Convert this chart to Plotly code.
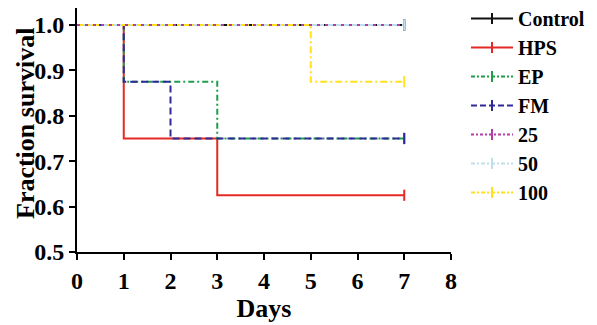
import plotly.graph_objects as go

days = [0, 1, 2, 3, 4, 5, 6, 7]
series_names = ["Control", "HPS", "EP", "FM", "25", "50", "100"]
control = [1.0, 1.0, 1.0, 1.0, 1.0, 1.0, 1.0, 1.0]
hps = [1.0, 0.75, 0.75, 0.625, 0.625, 0.625, 0.625, 0.625]
ep = [1.0, 0.875, 0.875, 0.75, 0.75, 0.75, 0.75, 0.75]
fm = [1.0, 0.875, 0.75, 0.75, 0.75, 0.75, 0.75, 0.75]
g25 = [1.0, 1.0, 1.0, 1.0, 1.0, 1.0, 1.0, 1.0]
g50 = [1.0, 1.0, 1.0, 1.0, 1.0, 1.0, 1.0, 1.0]
g100 = [1.0, 1.0, 1.0, 1.0, 1.0, 0.875, 0.875, 0.875]
x_ticks = [0, 1, 2, 3, 4, 5, 6, 7, 8]
y_ticks = [0.5, 0.6, 0.7, 0.8, 0.9, 1.0]
y_tick_labels = ["0.5", "0.6", "0.7", "0.8", "0.9", "1.0"]

values = [control, hps, ep, fm, g25, g50, g100]
colors = ["#111111", "#E42A24", "#1E9E4C", "#2E2A98", "#B23DA6", "#BFE0EA", "#FFE21C"]
dashes = ["solid", "solid", "6px,3px,2px,3px", "7px,4px", "3px,5px",
          "22px,3px", "7px,3px,2px,3px"]
legend_dashes = ["solid", "solid", "4px,2px,2px,2px", "6px,3px", "3px,2px,2px,2px",
                 "4px,2px,2px,2px", "4px,2px,2px,2px"]
draw_order = [0, 1, 2, 3, 5, 6, 4]

font_family = "Liberation Serif"
# the page body adds an 8px offset; the figure is sized to fill the rest
W, H = 589, 317
L, R, T, B = 69, 146, 0, 73
plot_w, plot_h = W - L - R, H - T - B

fig = go.Figure()
for i in draw_order:
    fig.add_trace(go.Scatter(
        x=days, y=values[i], name=series_names[i], mode="lines",
        line=dict(color=colors[i], width=2, dash=dashes[i], shape="hv"),
        showlegend=False,
    ))
for name, vals, col, dsh in zip(series_names, values, colors, legend_dashes):
    # censoring tick at the end of each curve, also used as the legend entry
    fig.add_trace(go.Scatter(
        x=[days[-1]], y=[vals[-1]], name=name, mode="lines+markers",
        line=dict(color=col, width=2, dash=dsh),
        marker=dict(symbol="line-ns", size=8, line=dict(color=col, width=2)),
        showlegend=True,
    ))

fig.update_layout(
    width=W, height=H,
    margin=dict(l=L, r=R, t=T, b=B, autoexpand=False),
    paper_bgcolor="white", plot_bgcolor="white",
    font=dict(family=font_family, color="black", size=22),
    showlegend=True,
    legend=dict(
        xref="container", yref="paper",
        x=458 / W, y=1 + 9 / plot_h, xanchor="left", yanchor="top",
        font=dict(family=font_family, size=20, color="black", weight="bold"),
        bgcolor="rgba(0,0,0,0)", borderwidth=0,
        tracegroupgap=0, itemwidth=42, maxheight=400,
    ),
    xaxis=dict(
        range=[0, 8], tickvals=x_ticks, ticks="outside", ticklen=6, tickwidth=2,
        tickcolor="black", showline=True, linecolor="black", linewidth=2,
        showgrid=False, zeroline=False, automargin=False,
        tickfont=dict(family=font_family, size=24, weight="bold"),
        title=dict(text="<b>Days</b>", font=dict(family=font_family, size=26), standoff=0),
    ),
    yaxis=dict(
        range=[0.5, 1.0374], tickvals=y_ticks, ticktext=y_tick_labels,
        ticks="outside", ticklen=6, tickwidth=2,
        tickcolor="black", showline=True, linecolor="black", linewidth=2,
        showgrid=False, zeroline=False, automargin=False,
        tickfont=dict(family=font_family, size=24, weight="bold"),
    ),
    annotations=[dict(
        text="<b>Fraction survival</b>", textangle=-90,
        xref="paper", yref="paper",
        x=(17 - L) / plot_w, y=1 - 116 / plot_h,
        xanchor="center", yanchor="middle", showarrow=False,
        font=dict(family=font_family, size=26, color="black"),
    )],
)

fig.write_html("out.html")
